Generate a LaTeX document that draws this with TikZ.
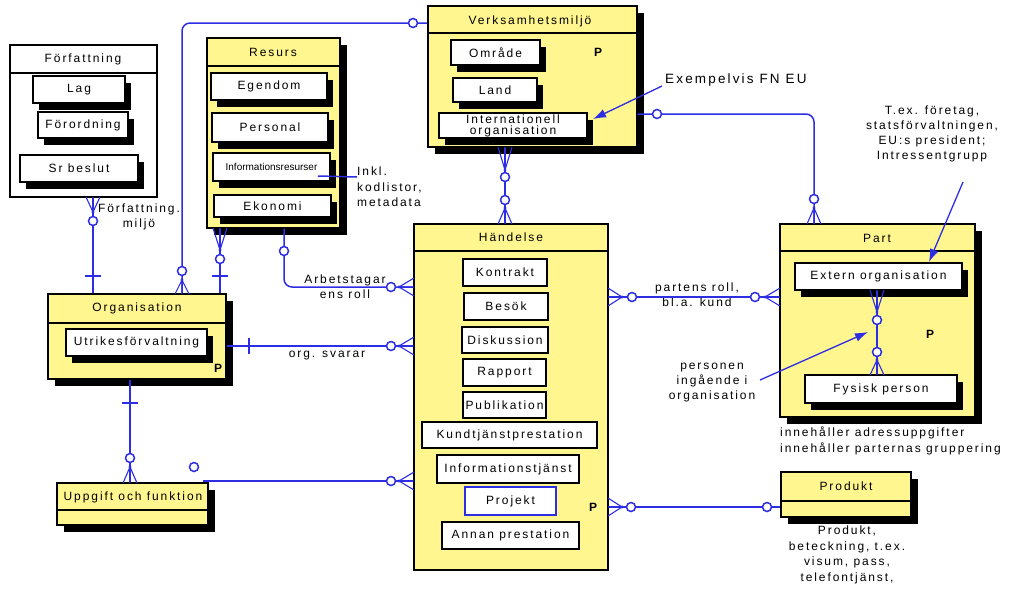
\documentclass[tikz,border=0pt]{standalone}
\usepackage{fontspec}
\setmainfont{Liberation Sans}[LetterSpace=16]
\newfontfamily\narrowfont{Liberation Sans}
\usetikzlibrary{shadows,arrows.meta}
\definecolor{ey}{RGB}{255,246,143}
\definecolor{cb}{RGB}{45,45,228}
\tikzset{
 ent/.style={draw=black, line width=1.4pt, fill=ey, inner sep=0pt},
 shad/.style={drop shadow={fill=black, opacity=1, shadow xshift=7pt, shadow yshift=-7pt}},
 sshad/.style={drop shadow={fill=black, opacity=1, shadow xshift=6pt, shadow yshift=-7pt}},
 sub/.style={draw=black, line width=1.3pt, fill=white, inner sep=0pt, font=\fontsize{12}{14}\selectfont},
 conn/.style={draw=cb, line width=1.5pt},
 fan/.style={draw=cb, line width=1.1pt},
 lbl/.style={font=\fontsize{12}{15.5}\selectfont, align=center, inner sep=0pt},
 ttl/.style={font=\fontsize{12}{14}\selectfont, inner sep=0pt},
 hdr/.style={draw=black, line width=1.4pt},
 arr/.style={draw=cb, line width=1.3pt, -{Latex[length=13pt,width=9pt]}},
}
\newcommand\bx[7]{\node[#6, minimum width={(#4)-(#2)}, minimum height={(#5)-(#3)}] (#1) at ({((#2)+(#4))/2},{((#3)+(#5))/2}) {#7};}
\newcommand\oc[2]{\draw[conn, fill=white] (#1,#2) circle (4.5pt);}
\newcommand\fanv[3]{\draw[fan] (#1-7,#2) -- (#1,#3) -- (#1+7,#2) (#1,#2) -- (#1,#3); \fill[cb] (#1,#3) circle (1.7pt);}
\newcommand\fanh[3]{\draw[fan] (#1,#3-9) -- (#2,#3) -- (#1,#3+9) (#1,#3) -- (#2,#3); \fill[cb] (#2,#3) circle (1.7pt);}
\begin{document}
\begin{tikzpicture}[x=1pt,y=-1pt]
\useasboundingbox (0,0) rectangle (1024,595);

% ---------- Författning
\bx{forf}{10}{45}{157}{197}{ent, fill=white}{}
\draw[hdr] (forf.west |- 0,73) -- (forf.east |- 0,73);
\node[ttl] (forft) at (83,59) {Författning};
\bx{lag}{33}{76}{125}{103}{sub, sshad}{Lag}
\bx{forord}{38}{112}{128}{138}{sub, sshad}{Förordning}
\bx{srb}{20}{155}{138}{182}{sub, sshad}{Sr beslut}

% ---------- Resurs
\bx{resurs}{207}{38}{340}{228}{ent, shad}{}
\draw[hdr] (resurs.west |- 0,66) -- (resurs.east |- 0,66);
\node[ttl] (resurst) at (273,52) {Resurs};
\bx{egendom}{211}{73}{327}{100}{sub, sshad}{Egendom}
\bx{personal}{212}{113}{328}{142}{sub, sshad}{Personal}
\bx{infores}{213}{153}{330}{181}{sub, sshad, font=\narrowfont\fontsize{10}{12}\selectfont}{Informationsresurser}
\bx{ekonomi}{214}{195}{331}{217}{sub, sshad}{Ekonomi}
\node[lbl, align=left, anchor=west] (inkl) at (357,187) {Inkl.\\kodlistor,\\metadata};

% ---------- Verksamhetsmiljö
\bx{verks}{428}{6}{637}{147}{ent, shad}{}
\draw[hdr] (verks.west |- 0,33) -- (verks.east |- 0,33);
\node[ttl] (verkst) at (530,21) {Verksamhetsmiljö};
\bx{omrade}{451}{40}{540}{65}{sub, sshad}{Område}
\bx{land}{453}{78}{537}{102}{sub, sshad}{Land}
\bx{intl}{439}{113}{587}{138}{sub, sshad, align=center, font=\fontsize{12}{11}\selectfont}{Internationell\\organisation}
\node[ttl, font=\fontsize{12}{14}\selectfont\bfseries] (pverks) at (598,52) {P};
\node[lbl, anchor=west, font=\fontsize{13.5}{15}\selectfont] (exem) at (665,80) {Exempelvis FN EU};

% ---------- Händelse
\bx{hand}{414}{224}{608}{570}{ent}{}
\draw[hdr] (hand.west |- 0,251) -- (hand.east |- 0,251);
\node[ttl] (handt) at (511,237) {Händelse};
\bx{kontrakt}{463}{259}{547}{286}{sub}{Kontrakt}
\bx{besok}{464}{293}{548}{320}{sub}{Besök}
\bx{disk}{462}{327}{548}{353}{sub}{Diskussion}
\bx{rapport}{463}{359}{546}{386}{sub}{Rapport}
\bx{publ}{463}{392}{546}{418}{sub}{Publikation}
\bx{kund}{422}{422}{597}{448}{sub}{Kundtjänstprestation}
\bx{infotj}{437}{455}{579}{483}{sub}{Informationstjänst}
\bx{projekt}{465}{487}{556}{515}{sub, draw=cb}{Projekt}
\bx{annan}{442}{522}{579}{549}{sub}{Annan prestation}
\node[ttl, font=\fontsize{12}{14}\selectfont\bfseries] (phand) at (593,507) {P};

% ---------- Part
\bx{part}{780}{224}{975}{417}{ent, shad}{}
\draw[hdr] (part.west |- 0,251) -- (part.east |- 0,251);
\node[ttl] (partt) at (877,238) {Part};
\bx{extern}{795}{263}{962}{290}{sub, sshad}{Extern organisation}
\bx{fysisk}{805}{375}{957}{403}{sub, sshad}{Fysisk person}
\node[ttl, font=\fontsize{12}{14}\selectfont\bfseries] (ppart) at (930,334) {P};
\node[lbl, align=left, anchor=west] (inneh) at (780,441) {innehåller adressuppgifter\\innehåller parternas gruppering};
\node[lbl, font=\fontsize{12}{15}\selectfont] (tex) at (932,134) {T.ex. företag,\\statsförvaltningen,\\EU:s president;\\Intressentgrupp};
\node[lbl, font=\fontsize{12}{15}\selectfont] (personen) at (712,383) {personen\\ingående i\\organisation};

% ---------- Organisation
\bx{org}{48}{294}{226}{379}{ent, shad}{}
\draw[hdr] (org.west |- 0,323) -- (org.east |- 0,323);
\node[ttl] (orgt) at (137,308) {Organisation};
\bx{utrikes}{66}{329}{207}{356}{sub, sshad}{Utrikesförvaltning}
\node[ttl, font=\fontsize{12}{14}\selectfont\bfseries] (porg) at (218,368) {P};

% ---------- Uppgift och funktion
\bx{upp}{57}{483}{208}{525}{ent, shad}{}
\draw[hdr] (upp.west |- 0,510) -- (upp.east |- 0,510);
\node[ttl] (uppt) at (133,497) {Uppgift och funktion};

% ---------- Produkt
\bx{prod}{781}{472}{911}{517}{ent, shad}{}
\draw[hdr] (prod.west |- 0,501) -- (prod.east |- 0,501);
\node[ttl] (prodt) at (846,486) {Produkt};
\node[lbl, font=\fontsize{12}{15.5}\selectfont] (prodtxt) at (847,555) {Produkt,\\beteckning, t.ex.\\visum, pass,\\telefontjänst,};

% ---------- labels on connectors
\node[lbl, font=\fontsize{12}{15}\selectfont] (forfmiljo) at (139,217) {Författning.\\miljö};
\node[lbl, font=\fontsize{12}{15}\selectfont] (arbets) at (345,287) {Arbetstagar\\ens roll};
\node[lbl] (orgsv) at (327,356) {org. svarar};
\node[lbl, font=\fontsize{12}{15}\selectfont] (partens) at (697,295) {partens roll,\\bl.a. kund};

% ---------- connectors
% Författning - Organisation
\draw[conn] (forf.south -| 93,0) -- (org.north -| 93,0);
\fanv{93}{197}{212}\oc{93}{221}
\draw[conn] (85,276) -- (101,276);
% Verksamhetsmiljö - Organisation
\draw[conn, rounded corners=8pt] (verks.west |- 0,23) -- (182,23) -- (org.north -| 182,0);
\oc{413}{23}\oc{182}{271}\fanv{182}{294}{280}
% Resurs - Organisation
\draw[conn] (resurs.south -| 220,0) -- (org.north -| 220,0);
\fanv{220}{228}{250}\oc{220}{259}
\draw[conn] (212,276) -- (228,276);
% Resurs - Händelse
\draw[conn, rounded corners=8pt] (resurs.south -| 284,0) -- (284,287) -- (hand.west |- 0,287);
\oc{284}{251}\fanh{414}{399}{287}\oc{391}{287}
% Organisation - Händelse
\draw[conn] (org.east |- 0,346) -- (hand.west |- 0,346);
\draw[conn] (249,338) -- (249,354);
\fanh{414}{399}{346}\oc{391}{346}
% Organisation - Uppgift
\draw[conn] (org.south -| 130,0) -- (upp.north -| 130,0);
\draw[conn] (122,403) -- (138,403);
\fanv{130}{483}{467}\oc{130}{458}
% Uppgift - Händelse
\coordinate (ustart) at (203,481);
\draw[conn] (ustart) -- (hand.west |- 0,481);
\fanh{414}{399}{481}\oc{391}{481}
\oc{194}{467}
% Verksamhetsmiljö - Händelse
\draw[conn] (verks.south -| 505,0) -- (hand.north -| 505,0);
\fanv{505}{147}{170}\oc{505}{177}\oc{505}{200}\fanv{505}{224}{208}
% Verksamhetsmiljö - Part
\draw[conn, rounded corners=8pt] (verks.east |- 0,114) -- (814,114) -- (part.north -| 814,0);
\oc{657}{114}\oc{814}{199}\fanv{814}{224}{208}
% Händelse - Part
\draw[conn] (hand.east |- 0,297) -- (part.west |- 0,297);
\fanh{608}{622}{297}\oc{632}{297}\oc{755}{297}\fanh{780}{765}{297}
% Extern - Fysisk
\draw[conn] (extern.south -| 877,0) -- (fysisk.north -| 877,0);
\fanv{877}{290}{312}\oc{877}{320}\oc{877}{352}\fanv{877}{375}{360}
% Händelse - Produkt
\draw[conn] (hand.east |- 0,507) -- (prod.west |- 0,507);
\fanh{608}{622}{507}\oc{631}{507}\oc{767}{507}
% Informationsresurser - Inkl
\draw[conn] (318,176) -- (inkl.west |- 0,177);

% ---------- annotation arrows
\coordinate (a1) at (662,86);
\coordinate (a1t) at (593,119);
\draw[arr] (a1) -- (a1t);
\coordinate (a2) at (963,182);
\coordinate (a2t) at (929,262);
\draw[arr] (a2) -- (a2t);
\coordinate (a3) at (760,380);
\coordinate (a3t) at (868,332);
\draw[arr] (a3) -- (a3t);
\end{tikzpicture}
\end{document}
